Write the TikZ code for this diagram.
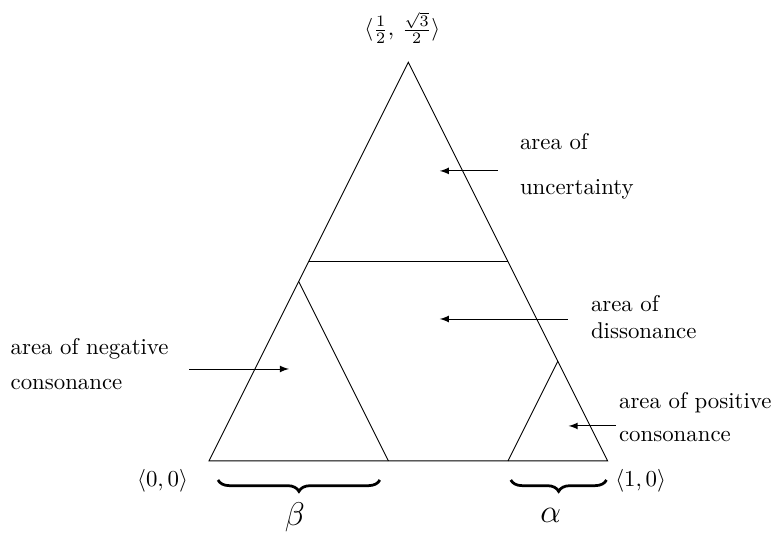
\documentclass[tikz,border=0pt]{standalone}
\usetikzlibrary{decorations.pathreplacing}
\begin{document}
\begin{tikzpicture}[
		x=6.14cm, y=7.09cm,
		edge/.style={draw},
		pointer/.style={draw, -latex},
		note/.style={align=left, anchor=north west, inner sep=0pt},
		bracket/.style={draw, decorate, decoration={brace, mirror, amplitude=5pt}, line width=1.2pt},
		greek/.style={font=\Large}
		]
		
		\useasboundingbox (-3.219cm,-1.109cm) rectangle (8.763cm,7.099cm);
		
		% Corners of the triangle
		\coordinate (A) at (0,0);
		\coordinate (B) at (1,0);
		\coordinate (C) at (0.5,{sqrt(3)/2});
		
		% Points on the sides
		\coordinate (midL) at (0.25,{sqrt(3)/4});
		\coordinate (midR) at (0.75,{sqrt(3)/4});
		\coordinate (betaTop) at (0.225,{0.45*sqrt(3)/2});
		\coordinate (betaBase) at (0.45,0);
		\coordinate (alphaBase) at (0.75,0);
		\coordinate (alphaTop) at (0.875,{0.25*sqrt(3)/2});
		
		% Triangle and its areas
		\draw[edge] (A) -- (B) -- (C) -- cycle;
		\draw[edge] (midL) -- (midR);
		\draw[edge] (betaTop) -- (betaBase);
		\draw[edge] (alphaBase) -- (alphaTop);
		
		% Corner labels
		\node (lblA) at (-0.1165,-0.0434) {$\langle 0,0\rangle$};
		\node (lblB) at (1.0826,-0.0434) {$\langle 1,0\rangle$};
		\node (lblC) at (0.485,0.941) {$\langle \frac{1}{2},\, \frac{\sqrt{3}}{2}\rangle$};
		
		% Braces under the base
		\coordinate (betaL) at (0.0226,-0.0413);
		\coordinate (betaR) at (0.4285,-0.0413);
		\coordinate (alphaL) at (0.757,-0.0413);
		\coordinate (alphaR) at (0.997,-0.0413);
		\draw[bracket] (betaL) -- (betaR);
		\draw[bracket] (alphaL) -- (alphaR);
		\node[greek] (beta) at (0.2155,-0.1216) {$\beta$};
		\node[greek] (alpha) at (0.857,-0.119) {$\alpha$};
		
		% Area labels
		\node[note] (unc) at (0.779,0.7124) {area of\\[7.7pt]uncertainty};
		\node[note] (dis) at (0.957,0.3606) {area of\\dissonance};
		\node[note] (neg) at (-0.4987,0.2672) {area of negative\\[3.3pt]consonance};
		\node[note] (pos) at (1.0275,0.1499) {area of positive\\[2.4pt]consonance};
		
		% Pointers
		\coordinate (uncTail) at (0.7243,0.630);
		\coordinate (uncHead) at (0.5789,0.630);
		\coordinate (disTail) at (0.8997,0.3084);
		\coordinate (disHead) at (0.5789,0.3084);
		\coordinate (negTail) at (-0.0501,0.1998);
		\coordinate (negHead) at (0.2005,0.1998);
		\coordinate (posTail) at (1.020,0.076);
		\coordinate (posHead) at (0.902,0.076);
		\draw[pointer] (uncTail) -- (uncHead);
		\draw[pointer] (disTail) -- (disHead);
		\draw[pointer] (negTail) -- (negHead);
		\draw[pointer] (posTail) -- (posHead);
		
	\end{tikzpicture}
\end{document}
